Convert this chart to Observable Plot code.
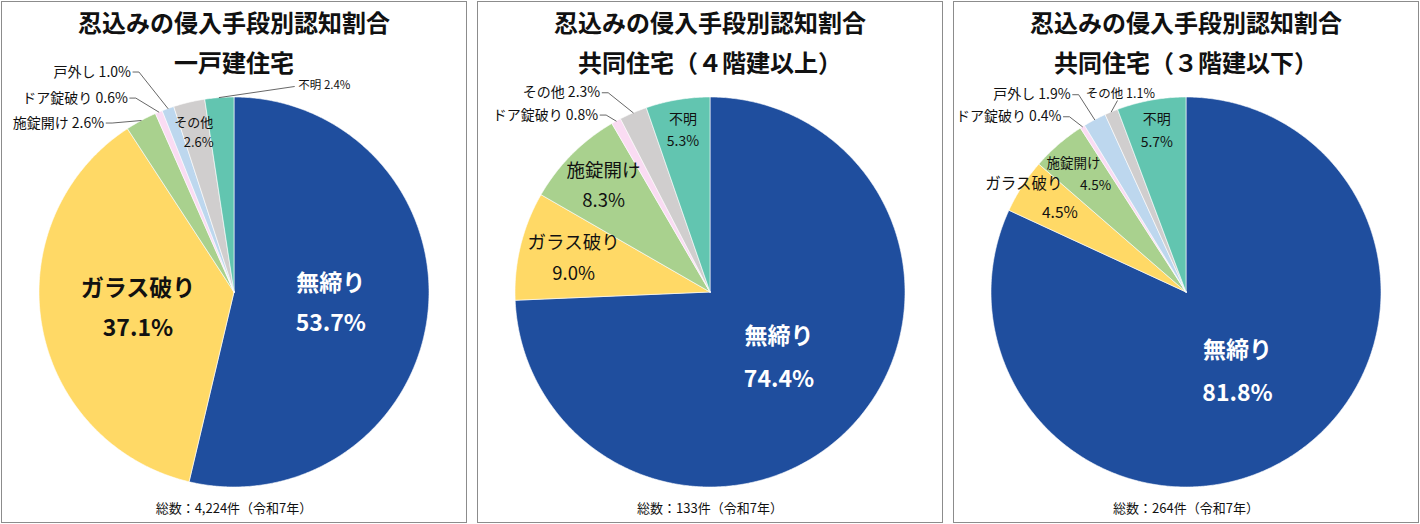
<!DOCTYPE html>
<html><head><meta charset="utf-8">
<script src="https://cdn.jsdelivr.net/npm/d3@7"></script>
<script src="https://cdn.jsdelivr.net/npm/@observablehq/plot@0.6"></script>
<style>
body{margin:0;background:#fff;font-family:"Noto Sans CJK JP",sans-serif;}
.panel{position:absolute;top:1px;width:466px;height:522px;box-sizing:border-box;border:1.5px solid #8c8c8c;background:#fff;overflow:hidden;}
.panel svg{position:absolute;left:0;top:0;}
.ttl{position:absolute;left:0;right:0;text-align:center;font-weight:700;font-size:24px;line-height:1;color:#111;white-space:nowrap;z-index:2;}
.cap{position:absolute;left:0;right:0;text-align:center;font-size:13px;line-height:1;color:#111;z-index:2;}
</style></head><body>
<div id="root"></div>
<script>
// ---- data ----
const categories = ["無締り","ガラス破り","施錠開け","ドア錠破り","戸外し","その他","不明"];
const sliceColors = ["#1f4e9e","#ffd966","#a9d18e","#fadcf3","#bdd7ee","#d0cece","#62c5b0"];
const mainTitle = "忍込みの侵入手段別認知割合";
const subtitles = ["一戸建住宅","共同住宅（４階建以上）","共同住宅（３階建以下）"];
const detachedValues = [53.7, 37.1, 2.6, 0.6, 1.0, 2.6, 2.4];
const apt4PlusValues = [74.4, 9.0, 8.3, 0.8, 0, 2.3, 5.3];
const apt3LessValues = [81.8, 4.5, 4.5, 0.4, 1.9, 1.1, 5.7];
const totals = ["4,224","133","264"];
const yearLabel = "令和7年";

// ---- layout (positions / sizes / styles) ----
const R = 195, W = 463, H = 519, CY = 289.5;
const panelLefts = [1, 477, 953];
const layouts = [
  {
    inside: {
      "無締り": {r:0.5, size:23, weight:700, color:"#fff", gap:40},
      "ガラス破り": {r:0.5, size:23, weight:700, color:"#111", gap:40},
      "その他": {r:0.84, size:13, weight:400, color:"#111", gap:20, dx:[-2.5,2.5]}
    },
    outside: {
      "戸外し": {dx:-37, dy:-36.5, anchor:"end", size:14},
      "ドア錠破り": {dx:-31, dy:-14, anchor:"end", size:14},
      "施錠開け": {dx:-37, dy:2.5, anchor:"end", size:14},
      "不明": {dx:79, dy:-12.5, anchor:"start", size:11.5}
    }
  },
  {
    inside: {
      "無締り": {r:0.49, size:23, weight:700, color:"#fff", gap:43},
      "ガラス破り": {r:0.72, size:18.5, weight:400, color:"#111", gap:31},
      "施錠開け": {r:0.77, size:18.5, weight:400, color:"#111", gap:30},
      "不明": {r:0.84, size:14, weight:400, color:"#111", gap:22}
    },
    outside: {
      "その他": {dx:-33, dy:-20, anchor:"end", size:14},
      "ドア錠破り": {dx:-18, dy:-6, anchor:"end", size:14}
    }
  },
  {
    inside: {
      "無締り": {r:0.49, size:23, weight:700, color:"#fff", gap:43},
      "ガラス破り": {r:0.88, size:15.5, weight:400, color:"#111", gap:29, dx:[-18,18]},
      "施錠開け": {r:0.795, size:13.5, weight:400, color:"#111", gap:22, dx:[-11,11]},
      "不明": {r:0.84, size:14, weight:400, color:"#111", gap:23}
    },
    outside: {
      "戸外し": {dx:-24, dy:-25, anchor:"end", size:14},
      "その他": {dx:9, dy:-18, anchor:"middle", size:12.5},
      "ドア錠破り": {dx:-21, dy:-10, anchor:"end", size:14}
    }
  }
];

const FONT = '"Noto Sans CJK JP", "Noto Sans", sans-serif';
const pct = v => v.toFixed(1) + "%";

function buildPanel(values, subtitle, total, layout, left) {
  const rowsIn = categories.map((cat, i) => ({cat, value: values[i]}));
  const arcs = d3.pie().sort(null).value(d => d.value).startAngle(0).endAngle(2 * Math.PI)(rowsIn);

  // slice polygons
  const poly = [];
  for (const a of arcs) {
    const span = a.endAngle - a.startAngle;
    if (span <= 0) continue;
    const cat = a.data.cat;
    poly.push({cat, x: 0, y: 0});
    const n = Math.max(2, Math.ceil(span / 0.008));
    for (let k = 0; k <= n; k++) {
      const t = a.startAngle + span * k / n;
      poly.push({cat, x: R * Math.sin(t), y: R * Math.cos(t)});
    }
    poly.push({cat, x: 0, y: 0});
  }

  const marks = [
    Plot.line(poly, {x: "x", y: "y", z: "cat", fill: "cat", stroke: "white", strokeWidth: 0.6, strokeLinejoin: "round"})
  ];

  const leaders = [];
  for (const a of arcs) {
    const cat = a.data.cat;
    const mid = (a.startAngle + a.endAngle) / 2;
    const ins = layout.inside[cat];
    const out = layout.outside[cat];
    if (ins) {
      const bx = ins.r * R * Math.sin(mid), by = ins.r * R * Math.cos(mid);
      const dx = ins.dx || [0, 0];
      const lines = [
        {text: cat, x: bx + dx[0], y: by + ins.gap / 2},
        {text: pct(a.data.value), x: bx + dx[1], y: by - ins.gap / 2}
      ];
      marks.push(Plot.text(lines, {x: "x", y: "y", text: "text", fontSize: ins.size, fontWeight: ins.weight, fill: ins.color, fontFamily: FONT}));
    }
    if (out) {
      const ex = R * Math.sin(mid), ey = R * Math.cos(mid);
      const ax = ex + out.dx, ay = ey - out.dy;
      marks.push(Plot.text([{text: cat + " " + pct(a.data.value), x: ax, y: ay}], {x: "x", y: "y", text: "text", textAnchor: out.anchor, fontSize: out.size, fill: "#111", fontFamily: FONT}));
      if (out.anchor === "end") {
        leaders.push({cat, x: ax + 2, y: ay}, {cat, x: ax + 8, y: ay}, {cat, x: ex, y: ey});
      } else if (out.anchor === "start") {
        leaders.push({cat, x: ax - 4, y: ay - 1.5}, {cat, x: ex, y: ey});
      } else {
        leaders.push({cat, x: ax - 3, y: ay - 7}, {cat, x: ex, y: ey});
      }
    }
  }
  marks.push(Plot.line(leaders, {x: "x", y: "y", z: "cat", stroke: "#404040", strokeWidth: 0.8}));

  const svg = Plot.plot({
    width: W, height: H, margin: 0,
    x: {domain: [-W / 2, W / 2], axis: null},
    y: {domain: [-(H - CY), CY], axis: null},
    color: {domain: categories, range: sliceColors},
    style: {fontFamily: FONT, background: "transparent", overflow: "visible"},
    marks
  });

  const panel = document.createElement("div");
  panel.className = "panel";
  panel.style.left = left + "px";
  panel.appendChild(svg);
  const t1 = document.createElement("div"); t1.className = "ttl"; t1.style.top = "8px"; t1.textContent = mainTitle;
  const t2 = document.createElement("div"); t2.className = "ttl"; t2.style.top = "48px"; t2.textContent = subtitle;
  const cap = document.createElement("div"); cap.className = "cap"; cap.style.top = "499px";
  cap.textContent = "総数：" + total + "件（" + yearLabel + "）";
  panel.append(t1, t2, cap);
  document.getElementById("root").appendChild(panel);
}

const seriesList = [detachedValues, apt4PlusValues, apt3LessValues];
seriesList.forEach((vals, i) => buildPanel(vals, subtitles[i], totals[i], layouts[i], panelLefts[i]));
</script>
</body></html>
